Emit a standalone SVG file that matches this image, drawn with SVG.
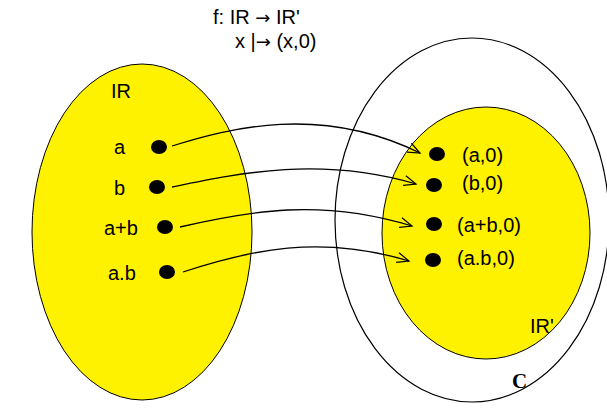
<svg xmlns="http://www.w3.org/2000/svg" width="607" height="408" viewBox="0 0 607 408">
<style>
.set{fill:#fff200;stroke:#000;stroke-width:1}
.outer{fill:none;stroke:#000;stroke-width:1.2}
.dot{fill:#000}
.t{font-family:"Liberation Sans",Arial,sans-serif;font-size:20px;fill:#000}
.ar{font-family:"DejaVu Sans",sans-serif;font-size:18px}
.c{fill:none;stroke:#000;stroke-width:1.3;marker-end:url(#ah)}
</style>
<defs>
<marker id="ah" markerWidth="16" markerHeight="12" refX="14" refY="6" orient="auto" markerUnits="userSpaceOnUse">
<path d="M2,1 L14,6 L2,11" fill="none" stroke="#000" stroke-width="1.2"/>
</marker>
</defs>
<rect width="607" height="408" fill="#fff"/>
<g id="title">
<text class="t" x="213" y="24">f: IR <tspan class="ar">→</tspan> IR'</text>
<text class="t" x="235" y="48">x |<tspan class="ar">→</tspan> (x,0)</text>
</g>
<g id="C">
<ellipse class="outer" cx="472" cy="220" rx="137" ry="182"/>
<text x="512" y="388" font-family="Liberation Serif,serif" font-weight="bold" font-size="21">C</text>
</g>
<g id="R">
<ellipse class="set" cx="142" cy="232" rx="110" ry="168"/>
<text class="t" x="111" y="98">IR</text>
</g>
<g id="Rprime">
<ellipse class="set" cx="486" cy="233" rx="104" ry="126"/>
<text class="t" x="530" y="333">IR'</text>
</g>
<g id="connectors">
<path class="c" d="M172,146 C230,128 320,104 420,153"/>
<path class="c" d="M172,187 C240,173 320,156 416,184"/>
<path class="c" d="M180,227 C250,211 320,198 412,226"/>
<path class="c" d="M183,272 C250,250 320,234 409,261"/>
</g>
<g id="leftpoints">
<ellipse class="dot" cx="159" cy="147" rx="8" ry="7"/>
<text class="t" x="114" y="154">a</text>
<ellipse class="dot" cx="157" cy="187" rx="8" ry="7"/>
<text class="t" x="114" y="195">b</text>
<ellipse class="dot" cx="165" cy="227" rx="8" ry="7"/>
<text class="t" x="104" y="235">a+b</text>
<ellipse class="dot" cx="167" cy="272" rx="8" ry="7"/>
<text class="t" x="108" y="280">a.b</text>
</g>
<g id="rightpoints">
<ellipse class="dot" cx="437" cy="154" rx="8" ry="7"/>
<text class="t" x="462" y="162">(a,0)</text>
<ellipse class="dot" cx="434" cy="185" rx="8" ry="7"/>
<text class="t" x="462" y="190">(b,0)</text>
<ellipse class="dot" cx="434" cy="224" rx="8" ry="7"/>
<text class="t" x="457" y="232">(a+b,0)</text>
<ellipse class="dot" cx="433" cy="260" rx="8" ry="7"/>
<text class="t" x="457" y="265">(a.b,0)</text>
</g>
</svg>
